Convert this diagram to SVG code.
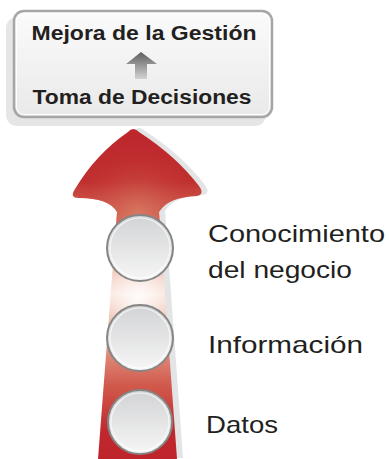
<svg xmlns="http://www.w3.org/2000/svg" width="389" height="459" viewBox="0 0 389 459">
<defs>
<style>
.bx{font-family:"Liberation Sans",Arial,sans-serif;font-weight:bold;font-size:20px;fill:#231f20;text-anchor:middle}
.lb{font-family:"Liberation Sans",Arial,sans-serif;font-size:24px;fill:#231f20}
.node{fill:url(#cg);stroke:#858585;stroke-width:2}
.hl{fill:none;stroke:#ffffff;stroke-opacity:0.7;stroke-width:1.2}
</style>
<linearGradient id="boxg" x1="0" y1="0" x2="0" y2="1">
<stop offset="0" stop-color="#fbfbfb"/>
<stop offset="1" stop-color="#e9e9ea"/>
</linearGradient>
<linearGradient id="sg" x1="0" y1="0" x2="0" y2="1">
<stop offset="0" stop-color="#5e5e5e"/>
<stop offset="1" stop-color="#d2d2d2"/>
</linearGradient>
<linearGradient id="ag" x1="0" y1="129" x2="0" y2="459" gradientUnits="userSpaceOnUse">
<stop offset="0" stop-color="#bd262c"/>
<stop offset="0.16" stop-color="#c0302f"/>
<stop offset="0.25" stop-color="#d36a57"/>
<stop offset="0.34" stop-color="#e6a590"/>
<stop offset="0.5" stop-color="#f9e3da"/>
<stop offset="0.62" stop-color="#e8ab98"/>
<stop offset="0.78" stop-color="#d0584b"/>
<stop offset="0.92" stop-color="#c0282e"/>
<stop offset="1" stop-color="#bd252b"/>
</linearGradient>
<radialGradient id="glow" cx="138" cy="298" r="40" gradientUnits="userSpaceOnUse">
<stop offset="0" stop-color="#ffffff" stop-opacity="0.9"/>
<stop offset="1" stop-color="#ffffff" stop-opacity="0"/>
</radialGradient>
<radialGradient id="headg" cx="138" cy="215" r="70" gradientUnits="userSpaceOnUse">
<stop offset="0" stop-color="#d87a63" stop-opacity="0.9"/>
<stop offset="1" stop-color="#c0282e" stop-opacity="0"/>
</radialGradient>
<linearGradient id="cg" x1="0" y1="0" x2="0" y2="1">
<stop offset="0" stop-color="#d2d3d5"/>
<stop offset="1" stop-color="#f6f6f6"/>
</linearGradient>
<path id="arrow" d="M128,132 Q133,126 139,132 Q176,156 199,186 Q205,194 197,196 Q168,197 159,212 L177,459 L98,459 L117,212 Q109,198 79,198 Q69,198 75,189 Q96,154 128,132 Z"/>
<clipPath id="ac"><use href="#arrow"/></clipPath>
</defs>

<g id="box">
<rect x="6" y="17" width="260" height="109" rx="11" fill="#e6e6e7"/>
<rect x="14" y="11" width="258" height="106" rx="10" fill="url(#boxg)" stroke="#a6a6a6" stroke-width="2.5"/>
<rect x="16.5" y="13.5" width="253" height="101" rx="8" fill="none" stroke="#ffffff" stroke-width="1"/>
<text class="bx" x="144" y="40" textLength="225" lengthAdjust="spacingAndGlyphs">Mejora de la Gestión</text>
<text class="bx" x="142" y="104" textLength="219" lengthAdjust="spacingAndGlyphs">Toma de Decisiones</text>
</g>

<g id="connectors">
<path d="M141,52 L157,64 L147,64 L147,79 L135,79 L135,64 L126,64 Z" fill="url(#sg)"/>
</g>

<g id="big-arrow">
<use href="#arrow" transform="translate(6,-1)" fill="#e3e4e6"/>
<use href="#arrow" fill="url(#ag)"/>
<g clip-path="url(#ac)">
<rect x="60" y="120" width="160" height="110" fill="url(#headg)"/>
<rect x="90" y="250" width="100" height="100" fill="url(#glow)"/>
</g>
</g>

<g id="node-conocimiento">
<circle class="node" cx="140" cy="248" r="33"/>
<circle class="hl" cx="140" cy="248" r="30"/>
<text class="lb" x="208" y="242" textLength="177" lengthAdjust="spacingAndGlyphs">Conocimiento</text>
<text class="lb" x="208" y="278" textLength="144" lengthAdjust="spacingAndGlyphs">del negocio</text>
</g>

<g id="node-informacion">
<circle class="node" cx="140" cy="338" r="33"/>
<circle class="hl" cx="140" cy="338" r="30"/>
<text class="lb" x="208" y="353" textLength="155" lengthAdjust="spacingAndGlyphs">Información</text>
</g>

<g id="node-datos">
<circle class="node" cx="140" cy="422" r="32"/>
<circle class="hl" cx="140" cy="422" r="29"/>
<text class="lb" x="206" y="433" textLength="72" lengthAdjust="spacingAndGlyphs">Datos</text>
</g>
</svg>
